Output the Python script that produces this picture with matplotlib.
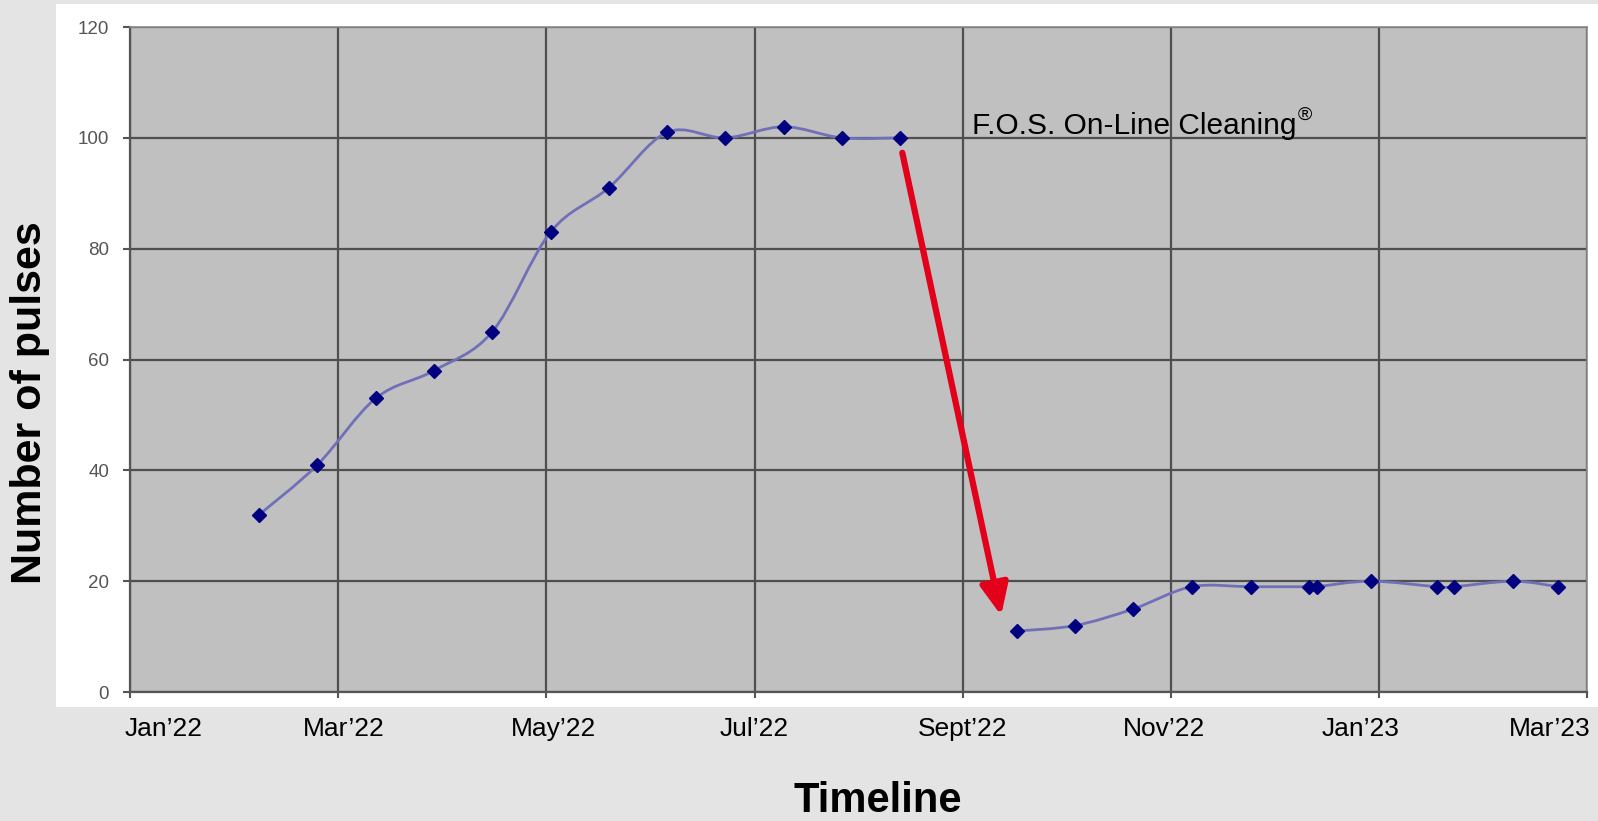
import matplotlib.pyplot as plt
from matplotlib.path import Path
from matplotlib.patches import PathPatch, Rectangle

# x is in months after Jan'22 (0 = Jan'22, 14 = Mar'23)
before_x = [1.24, 1.80, 2.36, 2.92, 3.48, 4.04, 4.60, 5.16, 5.72, 6.28, 6.84, 7.40]
before_y = [32, 41, 53, 58, 65, 83, 91, 101, 100, 102, 100, 100]
after_x = [8.52, 9.08, 9.64, 10.20, 10.77, 11.33, 11.40, 11.92, 12.56, 12.72, 13.29, 13.72]
after_y = [11, 12, 15, 19, 19, 19, 19, 20, 19, 19, 20, 19]

tick_pos = [0, 2, 4, 6, 8, 10, 12, 14]
tick_labels = ["Jan\u201922", "Mar\u201922", "May\u201922", "Jul\u201922",
               "Sept\u201922", "Nov\u201922", "Jan\u201923", "Mar\u201923"]
# excel nudges the labels sideways a bit (points)
label_shift = [24, 4, 5, 0, 0, -5, -13, -27]

plt.rcParams['font.family'] = ['Liberation Sans', 'DejaVu Sans']


def smooth_path(xs, ys):
    """bezier path through the points, like excel's smoothed line"""
    pts = list(zip(xs, ys))
    verts = [pts[0]]
    codes = [Path.MOVETO]
    n = len(pts)
    for i in range(n - 1):
        p0 = pts[i - 1] if i > 0 else pts[i]
        p1 = pts[i]
        p2 = pts[i + 1]
        p3 = pts[i + 2] if i + 2 < n else pts[i + 1]
        c1 = (p1[0] + (p2[0] - p0[0]) / 6, p1[1] + (p2[1] - p0[1]) / 6)
        c2 = (p2[0] - (p3[0] - p1[0]) / 6, p2[1] - (p3[1] - p1[1]) / 6)
        verts += [c1, c2, p2]
        codes += [Path.CURVE4] * 3
    return Path(verts, codes)


fig = plt.figure(figsize=(15.98, 8.21), dpi=100, facecolor='#e3e4e3')
fig.patches.append(Rectangle((0.035, 0.139), 0.965, 0.856, transform=fig.transFigure,
                             facecolor='white', edgecolor='none', zorder=-5))

ax = fig.add_axes([0.0814, 0.1571, 0.9118, 0.810])
ax.set_facecolor('#c0c0c0')

for xs, ys in [(before_x, before_y), (after_x, after_y)]:
    ax.add_patch(PathPatch(smooth_path(xs, ys), facecolor='none',
                           edgecolor='#7070b8', lw=2, zorder=3))
    ax.plot(xs, ys, linestyle='none', marker='D', markersize=7,
            color='#000080', zorder=4)

ax.set_xlim(0, 14)
ax.set_ylim(0, 120)
ax.set_xticks(tick_pos)
ax.set_xticklabels([])
for xp, lab, dx in zip(tick_pos, tick_labels, label_shift):
    ax.annotate(lab, xy=(xp, 0), xycoords=ax.get_xaxis_transform(),
                xytext=(dx, -18), textcoords='offset points',
                ha='center', va='top', fontsize=19, color='black', annotation_clip=False)
ax.set_yticks(range(0, 121, 20))
ax.tick_params(axis='y', labelsize=13.5, labelcolor='#555555', color='#555555',
               length=5, width=1.5, pad=10)
ax.tick_params(axis='x', color='#555555', length=4, width=1.5)

ax.grid(True, color='#4f4f4f', lw=1.6)
ax.set_axisbelow(True)
for side in ['left', 'bottom']:
    ax.spines[side].set_color('#555555')
    ax.spines[side].set_linewidth(1.6)
for side in ['top', 'right']:
    ax.spines[side].set_color('#8a8a8a')
    ax.spines[side].set_linewidth(1.2)

# cleaning event arrow
ax.annotate('', xy=(8.37, 13.8), xytext=(7.42, 97.3),
            arrowprops=dict(arrowstyle='-|>,head_length=1.9,head_width=0.85',
                            lw=4.5, color='#e3001b', shrinkA=0, shrinkB=0),
            zorder=5)
t = ax.text(8.09, 99.6, 'F.O.S. On-Line Cleaning', fontsize=21.5, color='black',
            va='bottom', ha='left', zorder=5)
ax.annotate('\u00ae', xy=(1, 1), xycoords=t, fontsize=14, va='top', ha='left',
            xytext=(1, 4), textcoords='offset points', zorder=5)

fig.text(0.019, 0.509, 'Number of pulses', rotation=90, fontsize=31, fontweight='bold',
         ha='center', va='center')
fig.text(0.549, 0.024, 'Timeline', fontsize=30, fontweight='bold',
         ha='center', va='center')

fig.savefig('out.png', dpi=100, facecolor=fig.get_facecolor())
